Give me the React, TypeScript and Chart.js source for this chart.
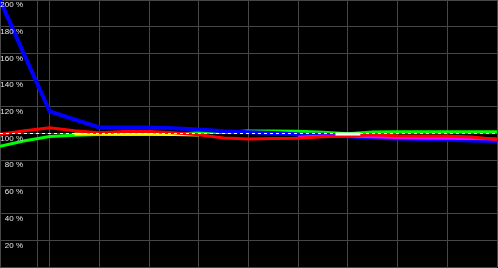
import React, { useEffect, useRef } from "react";
import { Chart, registerables } from "chart.js";

Chart.register(...registerables);

// x positions (index of sample)
const xIndex = [0, 1, 2, 3, 4, 5, 6, 7, 8, 9, 10, 11, 12, 13, 14, 15, 16, 17, 18, 19, 20];
const xGrid = [0, 1.5, 2, 4, 6, 8, 10, 12, 14, 16, 18, 20];
const yTickLabels = [200, 180, 160, 140, 120, 100, 80, 60, 40, 20];

const blueValues = [200, 158, 116.5, 110.5, 104.5, 104.5, 104.5, 104, 103, 101.6, 101, 100.3, 99.2, 99, 98, 96.8, 96.3, 95.8, 95.4, 94.8, 94.4];
const redValues = [99.5, 102, 104.3, 102, 100.5, 101.5, 101.5, 100.5, 99, 96.6, 95.8, 96.3, 96.5, 97.5, 98.2, 99, 98.3, 98.1, 98.1, 97.4, 95.5];
const greenValues = [90.5, 94.5, 97.7, 98.7, 99.3, 99.3, 99.4, 99.4, 100.5, 101, 101.8, 101.8, 101.6, 101, 99.8, 101.2, 101.3, 101.3, 101.3, 101.3, 101.3];
const yellowValues = [null, null, null, 99.6, 99.6, 99.5, 99.5, 99.3, 98.9, null, null, null, null, null, null, null, null, null, null, null, null];
const cyanValues = [null, null, null, null, null, null, null, null, null, 100.9, 101.6, null, null, null, null, null, null, null, null, null, null];
const magentaValues = [null, null, null, null, null, null, null, null, null, null, null, null, 97.2, 98.1, 98.2, 97.6, 97, 96.6, 96.5, 96.3, 95.8];
const whiteX = [13.5, 14.5];
const whiteValues = [99.6, 99.6];
const referenceValue = 100;

const toPoints = (xs: number[], ys: (number | null)[]) =>
  xs.map((x, i) => ({ x, y: ys[i] }));

export default function App() {
  const ref = useRef<HTMLCanvasElement | null>(null);

  useEffect(() => {
    if (!ref.current) return;
    const labelPlugin = {
      id: "yLabels",
      afterDatasetsDraw(chart: any) {
        const ctx = chart.ctx;
        const y = chart.scales.y;
        ctx.save();
        ctx.font = '8px "Liberation Sans", Arial, sans-serif';
        ctx.fillStyle = "#e6e6e6";
        ctx.textAlign = "right";
        ctx.textBaseline = "middle";
        yTickLabels.forEach((v) => {
          ctx.fillText(v + " %", 23, y.getPixelForValue(v) + 5);
        });
        ctx.restore();
      },
    };
    const line = (label: string, data: any[], color: string, width: number, order: number, extra: any = {}) => ({
      label,
      data,
      borderColor: color,
      backgroundColor: color,
      borderWidth: width,
      pointRadius: 0,
      tension: 0,
      fill: false,
      spanGaps: false,
      order,
      ...extra,
    });
    const chart = new Chart(ref.current, {
      type: "line",
      data: {
        datasets: [
          line("Reference", toPoints([0, 20], [referenceValue, referenceValue]), "#ffffff", 1, 0, { borderDash: [3, 3] }),
          line("White", toPoints(whiteX, whiteValues), "#ffffff", 3, 1),
          line("Red", toPoints(xIndex, redValues), "#ff0000", 3, 2),
          line("Magenta", toPoints(xIndex, magentaValues), "#ff00ff", 3, 3),
          line("Blue", toPoints(xIndex, blueValues), "#0000ff", 4, 4),
          line("Cyan", toPoints(xIndex, cyanValues), "#00ffff", 3, 5),
          line("Yellow", toPoints(xIndex, yellowValues), "#ffff00", 3, 6),
          line("Green", toPoints(xIndex, greenValues), "#00ff00", 3, 7),
        ],
      },
      options: {
        responsive: false,
        animation: false,
        layout: { padding: { left: 0, top: 0, right: 1, bottom: 1 } },
        plugins: { legend: { display: false }, tooltip: { enabled: false } },
        scales: {
          x: {
            type: "linear",
            min: 0,
            max: 20,
            afterBuildTicks: (scale: any) => {
              scale.ticks = xGrid.map((v) => ({ value: v }));
            },
            ticks: { display: false },
            grid: { color: "#474747", drawTicks: false, lineWidth: 1 },
            border: { display: false },
          },
          y: {
            type: "linear",
            min: 0,
            max: 200,
            ticks: { display: false, stepSize: 20 },
            grid: { color: "#474747", drawTicks: false, lineWidth: 1 },
            border: { display: false },
          },
        },
      },
      plugins: [labelPlugin],
    });
    return () => chart.destroy();
  }, []);

  return (
    <div style={{ position: "fixed", left: 0, top: 0, width: 498, height: 268, background: "#000" }}>
      <canvas ref={ref} width={498} height={268} style={{ display: "block", width: 498, height: 268 }} />
    </div>
  );
}
